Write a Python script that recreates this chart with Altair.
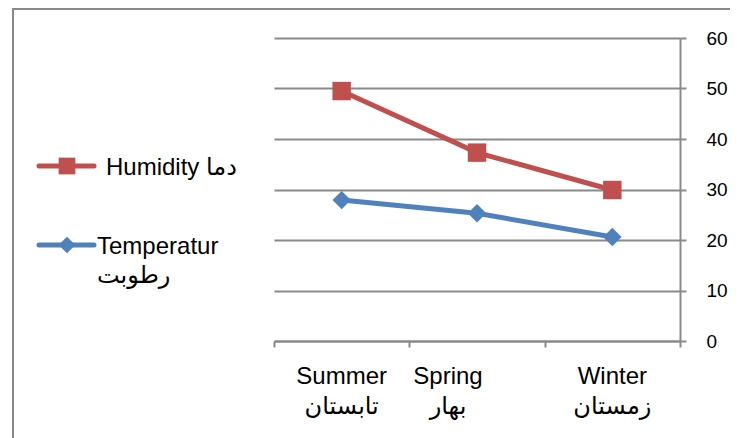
import altair as alt
import pandas as pd

# ---- data ----
seasons_en = ["Summer", "Spring", "Winter"]
seasons_fa = ["تابستان", "بهار", "زمستان"]
series_names = ["Humidity", "Temperature"]
humidity = [49.5, 37.3, 29.9]
temperature = [27.9, 25.3, 20.6]
legend_line1 = ["Humidity دما", "Temperatur"]
legend_line2 = ["", "رطوبت"]
y_ticks = [0, 10, 20, 30, 40, 50, 60]

series_colors = ["#C0504D", "#4F81BD"]
series_shapes = ["square", "diamond"]

FONT = "Liberation Sans, DejaVu Sans"
GRAY = "#8a8a8a"

rows = []
for name, vals in zip(series_names, [humidity, temperature]):
    for s, v in zip(seasons_en, vals):
        rows.append({"season": s, "series": name, "value": v})
df = pd.DataFrame(rows)
labels_df = pd.DataFrame({"season": seasons_en, "en": seasons_en, "fa": seasons_fa})
legend_df = pd.DataFrame({"series": series_names, "line1": legend_line1, "line2": legend_line2})

color = alt.Color("series:N", scale=alt.Scale(domain=series_names, range=series_colors), legend=None)
shape = alt.Shape("series:N", scale=alt.Scale(domain=series_names, range=series_shapes), legend=None)

x = alt.X(
    "season:N", sort=seasons_en,
    scale=alt.Scale(type="band", paddingInner=0, paddingOuter=0),
    axis=alt.Axis(title=None, labels=False, tickBand="extent", tickSize=6,
                  tickColor=GRAY, tickWidth=2, domainColor=GRAY, domainWidth=2, grid=False),
)
y = alt.Y(
    "value:Q", scale=alt.Scale(domain=[0, 60]),
    axis=alt.Axis(
        title=None, orient="right", values=y_ticks, grid=True,
        gridColor=GRAY, gridWidth=2, domainColor=GRAY, domainWidth=2,
        tickColor=GRAY, tickWidth=2, tickSize=6,
        labelFont=FONT, labelFontSize=19, labelColor="black", labelPadding=20,
    ),
)

line = alt.Chart(df).mark_line(strokeWidth=5).encode(x=x, y=y, color=color)
pts = alt.Chart(df).mark_point(filled=True, size=340, opacity=1).encode(x=x, y=y, color=color, shape=shape)

# two-line category labels under the x axis (Spring sits left of its band centre)
label_layers = []
for cond, dx in [("datum.season != 'Spring'", 0), ("datum.season == 'Spring'", -29)]:
    base = alt.Chart(labels_df).transform_filter(cond)
    label_layers += [
        base.mark_text(font=FONT, fontSize=24, color="black", baseline="middle", dx=dx).encode(
            x=x, y=alt.value(339), text="en:N"),
        base.mark_text(font=FONT, fontSize=24, color="black", baseline="middle", dx=dx).encode(
            x=x, y=alt.value(369), text="fa:N"),
    ]

# legend drawn at the left of the plot, one row per series
legend_rows_y = [128, 207]
legend_text_x = [-168, -177]
legend_layers = []
for i, name in enumerate(series_names):
    base = alt.Chart(legend_df).transform_filter(f"datum.series == '{name}'")
    yv = alt.value(legend_rows_y[i])
    legend_layers += [
        base.mark_rule(strokeWidth=5, strokeCap="round").encode(
            x=alt.value(-235), x2=alt.value(-180), y=yv, color=color),
        base.mark_point(filled=True, size=280, opacity=1).encode(
            x=alt.value(-207), y=yv, color=color, shape=shape),
        base.mark_text(align="left", baseline="middle", font=FONT, fontSize=24,
                       color="black", dy=2).encode(
            x=alt.value(legend_text_x[i]), y=yv, text="line1:N"),
        base.mark_text(align="left", baseline="middle", font=FONT, fontSize=24,
                       color="black", dy=31).encode(
            x=alt.value(legend_text_x[i]), y=yv, text="line2:N"),
    ]

border = alt.Chart(pd.DataFrame({"b": [0]})).mark_rect(
    fillOpacity=0, stroke=GRAY, strokeWidth=2).encode(
    x=alt.value(-261), x2=alt.value(900), y=alt.value(-29), y2=alt.value(900))

chart = alt.layer(border, line, pts, *label_layers, *legend_layers).properties(
    width=406, height=303,
    padding={"left": 266, "top": 30, "right": 50, "bottom": 100},
    autosize=alt.AutoSizeParams(type="none"),
).configure_view(stroke=None)

chart.save("out.html", embed_options={"renderer": "svg", "actions": False})
